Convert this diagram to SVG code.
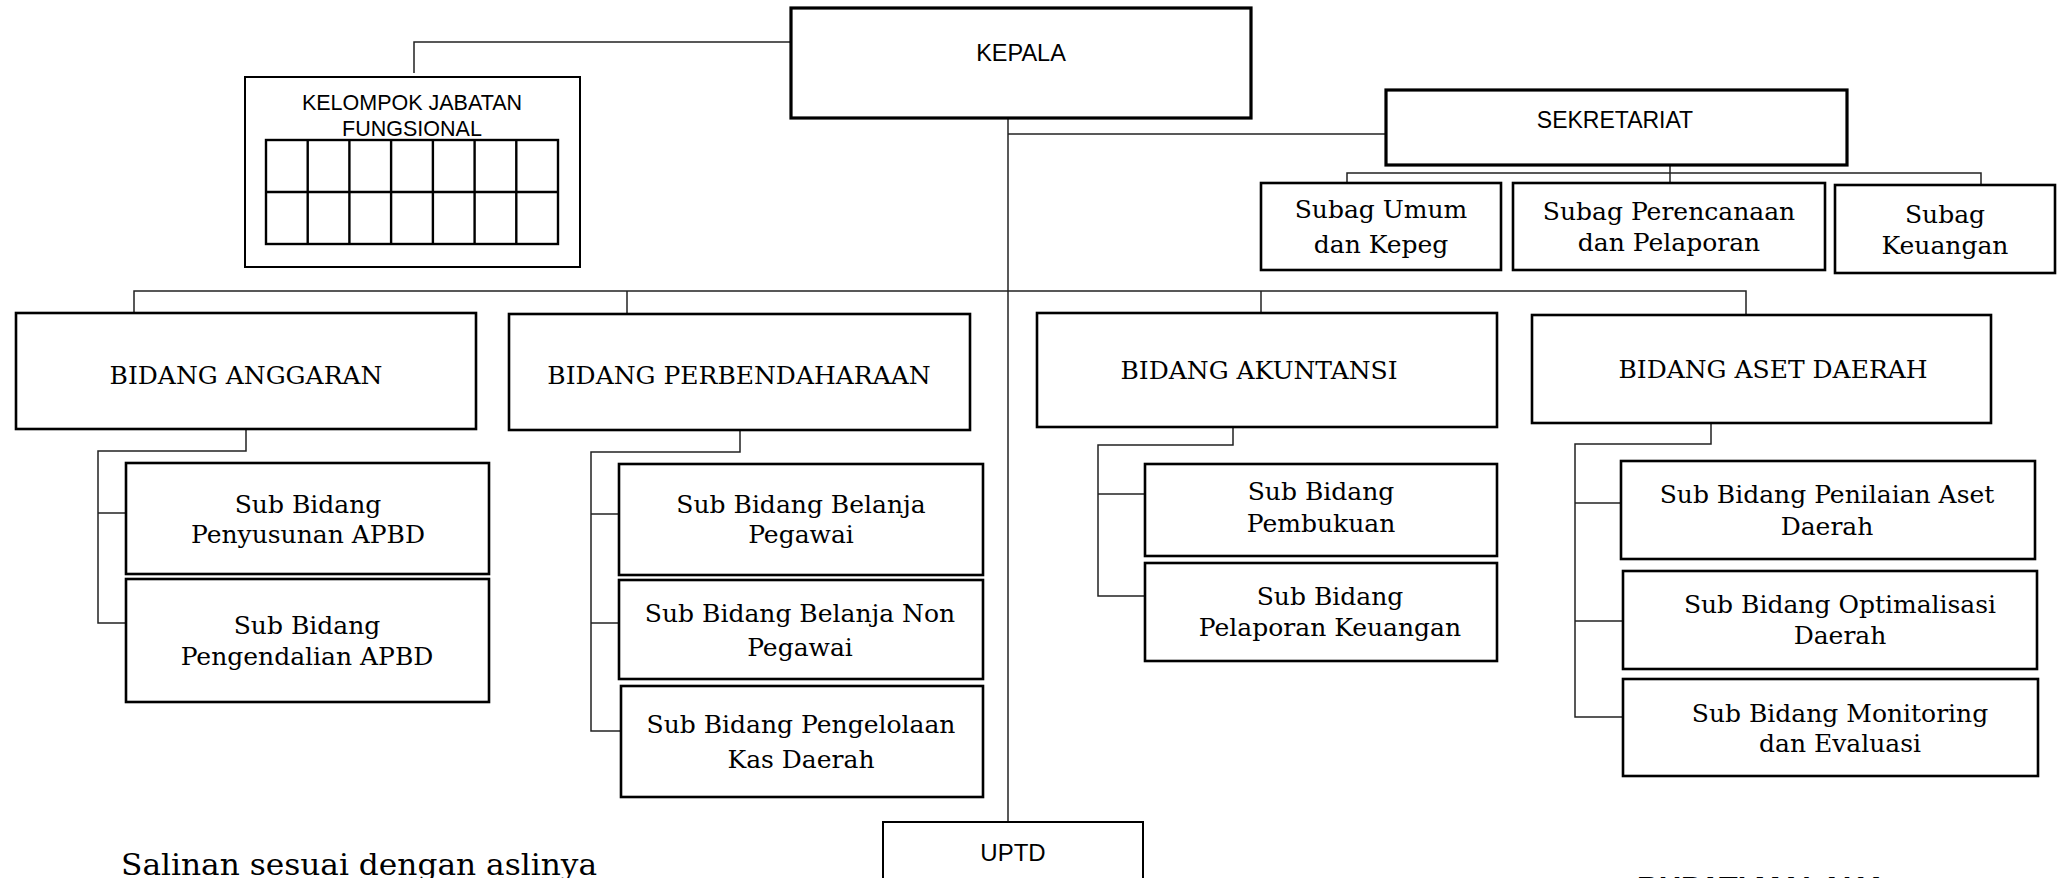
<svg xmlns="http://www.w3.org/2000/svg" width="2059" height="878" viewBox="0 0 2059 878">
<style>
.bg{fill:#fff}
.box{fill:#fff;stroke:#000;stroke-width:2.6}
.thick{stroke-width:3.2}
.thin{stroke-width:2}
.grid{fill:none;stroke:#000;stroke-width:2.4}
.conn{fill:none;stroke:#222;stroke-width:1.5}
.sans{font-family:"Liberation Sans",Arial,sans-serif;fill:#000;text-anchor:middle}
.serif{font-family:"DejaVu Serif","Liberation Serif",serif;fill:#000;text-anchor:middle;font-size:25px}
</style>
<rect class="bg" x="0" y="0" width="2059" height="878"/>

<g id="connectors">
  <path class="conn" d="M414,73 V42 H791"/>
  <path class="conn" d="M1008,118 V822"/>
  <path class="conn" d="M1008,134 H1386"/>
  <path class="conn" d="M1670,165 V183"/>
  <path class="conn" d="M1347,183 V173 H1981 V185"/>
  <path class="conn" d="M134,313 V291 H1746 V315"/>
  <path class="conn" d="M627,291 V314"/>
  <path class="conn" d="M1261,291 V313"/>
  <path class="conn" d="M246,429 V451 H98 V623 H126"/>
  <path class="conn" d="M98,513 H126"/>
  <path class="conn" d="M740,430 V452 H591 V731 H621"/>
  <path class="conn" d="M591,514 H619"/>
  <path class="conn" d="M591,623 H619"/>
  <path class="conn" d="M1233,427 V445 H1098 V596 H1145"/>
  <path class="conn" d="M1098,494 H1145"/>
  <path class="conn" d="M1711,423 V444 H1575 V717 H1623"/>
  <path class="conn" d="M1575,503 H1621"/>
  <path class="conn" d="M1575,621 H1623"/>
</g>

<g id="kepala">
  <rect class="box thick" x="791" y="8" width="460" height="110"/>
  <text class="sans" x="1021" y="61" font-size="23.5">KEPALA</text>
</g>

<g id="kelompok-jabatan-fungsional">
  <rect class="box thin" x="245" y="77" width="335" height="190"/>
  <text class="sans" x="412" y="110" font-size="21.5">KELOMPOK JABATAN</text>
  <text class="sans" x="412" y="136" font-size="21.5">FUNGSIONAL</text>
  <rect class="grid" x="266" y="140" width="292" height="104"/>
  <path class="grid" d="M266,192 H558 M307.7,140 V244 M349.4,140 V244 M391.1,140 V244 M432.9,140 V244 M474.6,140 V244 M516.3,140 V244"/>
</g>

<g id="sekretariat">
  <rect class="box thick" x="1386" y="90" width="461" height="75"/>
  <text class="sans" x="1615" y="128" font-size="23">SEKRETARIAT</text>
</g>

<g id="subag-umum">
  <rect class="box" x="1261" y="183" width="240" height="87"/>
  <text class="serif" x="1381" y="218">Subag Umum</text>
  <text class="serif" x="1381" y="253">dan Kepeg</text>
</g>

<g id="subag-perencanaan">
  <rect class="box" x="1513" y="183" width="312" height="87"/>
  <text class="serif" x="1669" y="220">Subag Perencanaan</text>
  <text class="serif" x="1669" y="251">dan Pelaporan</text>
</g>

<g id="subag-keuangan">
  <rect class="box" x="1835" y="185" width="220" height="88"/>
  <text class="serif" x="1945" y="223">Subag</text>
  <text class="serif" x="1945" y="254">Keuangan</text>
</g>

<g id="bidang-anggaran">
  <rect class="box" x="16" y="313" width="460" height="116"/>
  <text class="serif" x="246" y="384">BIDANG ANGGARAN</text>
</g>

<g id="bidang-perbendaharaan">
  <rect class="box" x="509" y="314" width="461" height="116"/>
  <text class="serif" x="739" y="384">BIDANG PERBENDAHARAAN</text>
</g>

<g id="bidang-akuntansi">
  <rect class="box" x="1037" y="313" width="460" height="114"/>
  <text class="serif" x="1259" y="379">BIDANG AKUNTANSI</text>
</g>

<g id="bidang-aset-daerah">
  <rect class="box" x="1532" y="315" width="459" height="108"/>
  <text class="serif" x="1773" y="378">BIDANG ASET DAERAH</text>
</g>

<g id="sub-penyusunan-apbd">
  <rect class="box" x="126" y="463" width="363" height="111"/>
  <text class="serif" x="308" y="513">Sub Bidang</text>
  <text class="serif" x="308" y="543">Penyusunan APBD</text>
</g>

<g id="sub-pengendalian-apbd">
  <rect class="box" x="126" y="579" width="363" height="123"/>
  <text class="serif" x="307" y="634">Sub Bidang</text>
  <text class="serif" x="307" y="665">Pengendalian APBD</text>
</g>

<g id="sub-belanja-pegawai">
  <rect class="box" x="619" y="464" width="364" height="111"/>
  <text class="serif" x="801" y="513">Sub Bidang Belanja</text>
  <text class="serif" x="801" y="543">Pegawai</text>
</g>

<g id="sub-belanja-non-pegawai">
  <rect class="box" x="619" y="580" width="364" height="99"/>
  <text class="serif" x="800" y="622">Sub Bidang Belanja Non</text>
  <text class="serif" x="800" y="656">Pegawai</text>
</g>

<g id="sub-pengelolaan-kas">
  <rect class="box" x="621" y="686" width="362" height="111"/>
  <text class="serif" x="801" y="733">Sub Bidang Pengelolaan</text>
  <text class="serif" x="801" y="768">Kas Daerah</text>
</g>

<g id="sub-pembukuan">
  <rect class="box" x="1145" y="464" width="352" height="92"/>
  <text class="serif" x="1321" y="500">Sub Bidang</text>
  <text class="serif" x="1321" y="532">Pembukuan</text>
</g>

<g id="sub-pelaporan-keuangan">
  <rect class="box" x="1145" y="563" width="352" height="98"/>
  <text class="serif" x="1330" y="605">Sub Bidang</text>
  <text class="serif" x="1330" y="636">Pelaporan Keuangan</text>
</g>

<g id="sub-penilaian-aset">
  <rect class="box" x="1621" y="461" width="414" height="98"/>
  <text class="serif" x="1827" y="503">Sub Bidang Penilaian Aset</text>
  <text class="serif" x="1827" y="535">Daerah</text>
</g>

<g id="sub-optimalisasi">
  <rect class="box" x="1623" y="571" width="414" height="98"/>
  <text class="serif" x="1840" y="613">Sub Bidang Optimalisasi</text>
  <text class="serif" x="1840" y="644">Daerah</text>
</g>

<g id="sub-monitoring">
  <rect class="box" x="1623" y="679" width="415" height="97"/>
  <text class="serif" x="1840" y="722">Sub Bidang Monitoring</text>
  <text class="serif" x="1840" y="752">dan Evaluasi</text>
</g>

<g id="uptd">
  <rect class="box thin" x="883" y="822" width="260" height="100"/>
  <text class="sans" x="1013" y="861" font-size="24">UPTD</text>
</g>

<g id="footer">
  <text x="121" y="875" font-family="'DejaVu Serif','Liberation Serif',serif" font-size="30" fill="#000" textLength="476" lengthAdjust="spacingAndGlyphs">Salinan sesuai dengan aslinya</text>
  <text x="1637" y="897" font-family="'Liberation Sans',Arial,sans-serif" font-weight="bold" font-size="30" fill="#000" textLength="250" lengthAdjust="spacingAndGlyphs">BUPATI MALAKA</text>
</g>
</svg>
